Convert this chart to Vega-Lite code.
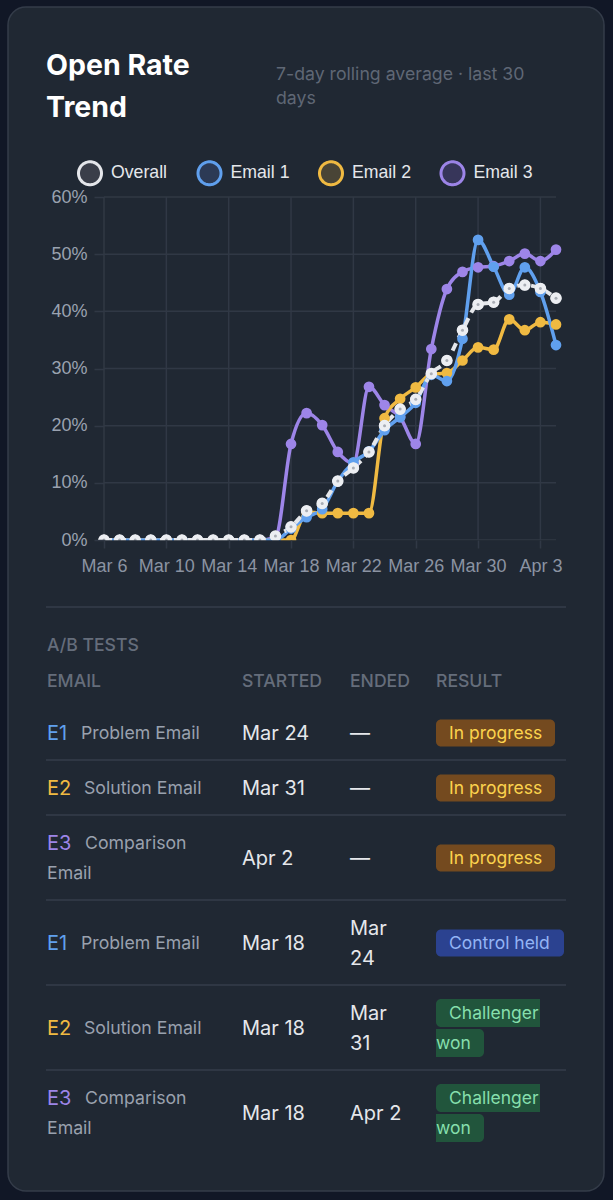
{
  "$schema": "https://vega.github.io/schema/vega-lite/v6.json",
  "width": 596,
  "height": 1184,
  "autosize": {"type": "none"},
  "padding": {"left": 8, "top": 7, "right": 9, "bottom": 9},
  "background": "#111726",
  "view": {"fill": "#202833", "stroke": "#343c49", "strokeWidth": 1.5, "cornerRadius": 18},
  "title": {
    "text": ["Open Rate", "Trend"],
    "anchor": "start",
    "frame": "group",
    "font": "Inter",
    "fontSize": 28.5,
    "fontWeight": 700,
    "color": "#ffffff",
    "lineHeight": 42,
    "baseline": "alphabetic",
    "offset": 0,
    "dx": 38,
    "dy": 138
  },
  "config": {
    "text": {"font": "Inter", "baseline": "middle", "align": "left", "dy": 1}
  },
  "datasets": {
    "rates": [
      {"date": "2026-03-06", "series": "Email 3", "rate": 0},
      {"date": "2026-03-07", "series": "Email 3", "rate": 0},
      {"date": "2026-03-08", "series": "Email 3", "rate": 0},
      {"date": "2026-03-09", "series": "Email 3", "rate": 0},
      {"date": "2026-03-10", "series": "Email 3", "rate": 0},
      {"date": "2026-03-11", "series": "Email 3", "rate": 0},
      {"date": "2026-03-12", "series": "Email 3", "rate": 0},
      {"date": "2026-03-13", "series": "Email 3", "rate": 0},
      {"date": "2026-03-14", "series": "Email 3", "rate": 0},
      {"date": "2026-03-15", "series": "Email 3", "rate": 0},
      {"date": "2026-03-16", "series": "Email 3", "rate": 0},
      {"date": "2026-03-17", "series": "Email 3", "rate": 0.5},
      {"date": "2026-03-18", "series": "Email 3", "rate": 16.8},
      {"date": "2026-03-19", "series": "Email 3", "rate": 22.2},
      {"date": "2026-03-20", "series": "Email 3", "rate": 20.1},
      {"date": "2026-03-21", "series": "Email 3", "rate": 15.4},
      {"date": "2026-03-22", "series": "Email 3", "rate": 13.4},
      {"date": "2026-03-23", "series": "Email 3", "rate": 26.8},
      {"date": "2026-03-24", "series": "Email 3", "rate": 23.6},
      {"date": "2026-03-25", "series": "Email 3", "rate": 21.5},
      {"date": "2026-03-26", "series": "Email 3", "rate": 16.8},
      {"date": "2026-03-27", "series": "Email 3", "rate": 33.4},
      {"date": "2026-03-28", "series": "Email 3", "rate": 43.9},
      {"date": "2026-03-29", "series": "Email 3", "rate": 46.9},
      {"date": "2026-03-30", "series": "Email 3", "rate": 47.7},
      {"date": "2026-03-31", "series": "Email 3", "rate": 47.9},
      {"date": "2026-04-01", "series": "Email 3", "rate": 48.8},
      {"date": "2026-04-02", "series": "Email 3", "rate": 50.1},
      {"date": "2026-04-03", "series": "Email 3", "rate": 48.8},
      {"date": "2026-04-04", "series": "Email 3", "rate": 50.8},
      {"date": "2026-03-06", "series": "Email 2", "rate": 0},
      {"date": "2026-03-07", "series": "Email 2", "rate": 0},
      {"date": "2026-03-08", "series": "Email 2", "rate": 0},
      {"date": "2026-03-09", "series": "Email 2", "rate": 0},
      {"date": "2026-03-10", "series": "Email 2", "rate": 0},
      {"date": "2026-03-11", "series": "Email 2", "rate": 0},
      {"date": "2026-03-12", "series": "Email 2", "rate": 0},
      {"date": "2026-03-13", "series": "Email 2", "rate": 0},
      {"date": "2026-03-14", "series": "Email 2", "rate": 0},
      {"date": "2026-03-15", "series": "Email 2", "rate": 0},
      {"date": "2026-03-16", "series": "Email 2", "rate": 0},
      {"date": "2026-03-17", "series": "Email 2", "rate": 0},
      {"date": "2026-03-18", "series": "Email 2", "rate": 0},
      {"date": "2026-03-19", "series": "Email 2", "rate": 4.9},
      {"date": "2026-03-20", "series": "Email 2", "rate": 4.7},
      {"date": "2026-03-21", "series": "Email 2", "rate": 4.7},
      {"date": "2026-03-22", "series": "Email 2", "rate": 4.7},
      {"date": "2026-03-23", "series": "Email 2", "rate": 4.7},
      {"date": "2026-03-24", "series": "Email 2", "rate": 21.3},
      {"date": "2026-03-25", "series": "Email 2", "rate": 24.7},
      {"date": "2026-03-26", "series": "Email 2", "rate": 26.7},
      {"date": "2026-03-27", "series": "Email 2", "rate": 29},
      {"date": "2026-03-28", "series": "Email 2", "rate": 29.2},
      {"date": "2026-03-29", "series": "Email 2", "rate": 31.4},
      {"date": "2026-03-30", "series": "Email 2", "rate": 33.7},
      {"date": "2026-03-31", "series": "Email 2", "rate": 33.3},
      {"date": "2026-04-01", "series": "Email 2", "rate": 38.6},
      {"date": "2026-04-02", "series": "Email 2", "rate": 36.7},
      {"date": "2026-04-03", "series": "Email 2", "rate": 38.1},
      {"date": "2026-04-04", "series": "Email 2", "rate": 37.7},
      {"date": "2026-03-06", "series": "Email 1", "rate": 0},
      {"date": "2026-03-07", "series": "Email 1", "rate": 0},
      {"date": "2026-03-08", "series": "Email 1", "rate": 0},
      {"date": "2026-03-09", "series": "Email 1", "rate": 0},
      {"date": "2026-03-10", "series": "Email 1", "rate": 0},
      {"date": "2026-03-11", "series": "Email 1", "rate": 0},
      {"date": "2026-03-12", "series": "Email 1", "rate": 0},
      {"date": "2026-03-13", "series": "Email 1", "rate": 0},
      {"date": "2026-03-14", "series": "Email 1", "rate": 0},
      {"date": "2026-03-15", "series": "Email 1", "rate": 0},
      {"date": "2026-03-16", "series": "Email 1", "rate": 0},
      {"date": "2026-03-17", "series": "Email 1", "rate": 0},
      {"date": "2026-03-18", "series": "Email 1", "rate": 2},
      {"date": "2026-03-19", "series": "Email 1", "rate": 4},
      {"date": "2026-03-20", "series": "Email 1", "rate": 5.4},
      {"date": "2026-03-21", "series": "Email 1", "rate": 10.3},
      {"date": "2026-03-22", "series": "Email 1", "rate": 13.6},
      {"date": "2026-03-23", "series": "Email 1", "rate": 15.5},
      {"date": "2026-03-24", "series": "Email 1", "rate": 19.2},
      {"date": "2026-03-25", "series": "Email 1", "rate": 21.5},
      {"date": "2026-03-26", "series": "Email 1", "rate": 24},
      {"date": "2026-03-27", "series": "Email 1", "rate": 28.9},
      {"date": "2026-03-28", "series": "Email 1", "rate": 27.8},
      {"date": "2026-03-29", "series": "Email 1", "rate": 35.2},
      {"date": "2026-03-30", "series": "Email 1", "rate": 52.5},
      {"date": "2026-03-31", "series": "Email 1", "rate": 47.8},
      {"date": "2026-04-01", "series": "Email 1", "rate": 42.9},
      {"date": "2026-04-02", "series": "Email 1", "rate": 47.7},
      {"date": "2026-04-03", "series": "Email 1", "rate": 43.4},
      {"date": "2026-04-04", "series": "Email 1", "rate": 34.1},
      {"date": "2026-03-06", "series": "Overall", "rate": 0},
      {"date": "2026-03-07", "series": "Overall", "rate": 0},
      {"date": "2026-03-08", "series": "Overall", "rate": 0},
      {"date": "2026-03-09", "series": "Overall", "rate": 0},
      {"date": "2026-03-10", "series": "Overall", "rate": 0},
      {"date": "2026-03-11", "series": "Overall", "rate": 0},
      {"date": "2026-03-12", "series": "Overall", "rate": 0},
      {"date": "2026-03-13", "series": "Overall", "rate": 0},
      {"date": "2026-03-14", "series": "Overall", "rate": 0},
      {"date": "2026-03-15", "series": "Overall", "rate": 0},
      {"date": "2026-03-16", "series": "Overall", "rate": 0},
      {"date": "2026-03-17", "series": "Overall", "rate": 0.7},
      {"date": "2026-03-18", "series": "Overall", "rate": 2.3},
      {"date": "2026-03-19", "series": "Overall", "rate": 5.1},
      {"date": "2026-03-20", "series": "Overall", "rate": 6.4},
      {"date": "2026-03-21", "series": "Overall", "rate": 10.3},
      {"date": "2026-03-22", "series": "Overall", "rate": 12.6},
      {"date": "2026-03-23", "series": "Overall", "rate": 15.4},
      {"date": "2026-03-24", "series": "Overall", "rate": 20},
      {"date": "2026-03-25", "series": "Overall", "rate": 22.9},
      {"date": "2026-03-26", "series": "Overall", "rate": 24.6},
      {"date": "2026-03-27", "series": "Overall", "rate": 29.1},
      {"date": "2026-03-28", "series": "Overall", "rate": 31.4},
      {"date": "2026-03-29", "series": "Overall", "rate": 36.7},
      {"date": "2026-03-30", "series": "Overall", "rate": 41.2},
      {"date": "2026-03-31", "series": "Overall", "rate": 41.6},
      {"date": "2026-04-01", "series": "Overall", "rate": 44},
      {"date": "2026-04-02", "series": "Overall", "rate": 44.6},
      {"date": "2026-04-03", "series": "Overall", "rate": 44},
      {"date": "2026-04-04", "series": "Overall", "rate": 42.3}
    ],
    "cells": [
      {"slot": -3, "col": 5, "kind": "note", "text": "7-day rolling average · last 30"},
      {"slot": -2, "col": 5, "kind": "note", "text": "days"},
      {"slot": -1, "col": 1, "kind": "head", "text": "A/B TESTS"},
      {"slot": 0, "col": 1, "kind": "head", "text": "EMAIL"},
      {"slot": 0, "col": 6, "kind": "head", "text": "STARTED"},
      {"slot": 0, "col": 7, "kind": "head", "text": "ENDED"},
      {"slot": 0, "col": 8, "kind": "head", "text": "RESULT"},
      {"slot": 1, "col": 1, "kind": "tag", "text": "E1"},
      {"slot": 1, "col": 2, "kind": "name", "text": "Problem Email"},
      {"slot": 1, "col": 6, "kind": "date", "text": "Mar 24"},
      {"slot": 1, "col": 7, "kind": "date", "text": "—"},
      {"slot": 1, "col": 9, "kind": "badge", "text": "In progress"},
      {"slot": 2, "col": 1, "kind": "tag", "text": "E2"},
      {"slot": 2, "col": 3, "kind": "name", "text": "Solution Email"},
      {"slot": 2, "col": 6, "kind": "date", "text": "Mar 31"},
      {"slot": 2, "col": 7, "kind": "date", "text": "—"},
      {"slot": 2, "col": 9, "kind": "badge", "text": "In progress"},
      {"slot": 3, "col": 1, "kind": "tag", "text": "E3"},
      {"slot": 3, "col": 4, "kind": "name", "text": "Comparison"},
      {"slot": 5, "col": 1, "kind": "name", "text": "Email"},
      {"slot": 4, "col": 6, "kind": "date", "text": "Apr 2"},
      {"slot": 4, "col": 7, "kind": "date", "text": "—"},
      {"slot": 4, "col": 9, "kind": "badge", "text": "In progress"},
      {"slot": 7, "col": 1, "kind": "tag", "text": "E1"},
      {"slot": 7, "col": 2, "kind": "name", "text": "Problem Email"},
      {"slot": 7, "col": 6, "kind": "date", "text": "Mar 18"},
      {"slot": 6, "col": 7, "kind": "date", "text": "Mar"},
      {"slot": 8, "col": 7, "kind": "date", "text": "24"},
      {"slot": 7, "col": 9, "kind": "badge", "text": "Control held"},
      {"slot": 10, "col": 1, "kind": "tag", "text": "E2"},
      {"slot": 10, "col": 3, "kind": "name", "text": "Solution Email"},
      {"slot": 10, "col": 6, "kind": "date", "text": "Mar 18"},
      {"slot": 9, "col": 7, "kind": "date", "text": "Mar"},
      {"slot": 11, "col": 7, "kind": "date", "text": "31"},
      {"slot": 9, "col": 9, "kind": "badge", "text": "Challenger"},
      {"slot": 11, "col": 8, "kind": "badge", "text": "won"},
      {"slot": 12, "col": 1, "kind": "tag", "text": "E3"},
      {"slot": 12, "col": 4, "kind": "name", "text": "Comparison"},
      {"slot": 14, "col": 1, "kind": "name", "text": "Email"},
      {"slot": 13, "col": 6, "kind": "date", "text": "Mar 18"},
      {"slot": 13, "col": 7, "kind": "date", "text": "Apr 2"},
      {"slot": 12, "col": 9, "kind": "badge", "text": "Challenger"},
      {"slot": 14, "col": 8, "kind": "badge", "text": "won"}
    ]
  },
  "resolve": {"scale": {"x": "independent", "y": "independent", "color": "independent", "stroke": "independent", "fill": "independent"}, "axis": {"x": "independent", "y": "independent"}},
  "layer": [
    {
      "layer": [
        {
          "data": {"values": [
            {"day": "2026-03-06"}, {"day": "2026-03-10"}, {"day": "2026-03-14"}, {"day": "2026-03-18"},
            {"day": "2026-03-22"}, {"day": "2026-03-26"}, {"day": "2026-03-30"}, {"day": "2026-04-03"}
          ]},
          "mark": {"type": "rule", "color": "#303845", "strokeWidth": 1.5},
          "encoding": {
            "x": {"field": "day", "type": "temporal", "scale": {"type": "utc"}},
            "y": {"datum": 0},
            "y2": {"datum": 60}
          }
        },
        {
          "data": {"values": [
            {"pct": 0, "from": "2026-03-06", "to": "2026-04-04"},
            {"pct": 10, "from": "2026-03-06", "to": "2026-04-04"},
            {"pct": 20, "from": "2026-03-06", "to": "2026-04-04"},
            {"pct": 30, "from": "2026-03-06", "to": "2026-04-04"},
            {"pct": 40, "from": "2026-03-06", "to": "2026-04-04"},
            {"pct": 50, "from": "2026-03-06", "to": "2026-04-04"},
            {"pct": 60, "from": "2026-03-06", "to": "2026-04-04"}
          ]},
          "mark": {"type": "rule", "color": "#303845", "strokeWidth": 1.5},
          "encoding": {
            "y": {"field": "pct", "type": "quantitative"},
            "x": {"field": "from", "type": "temporal", "scale": {"type": "utc"}},
            "x2": {"field": "to"}
          }
        },
        {
          "data": {"name": "rates"},
          "encoding": {
            "x": {
              "field": "date",
              "type": "temporal",
              "title": null,
              "scale": {"type": "utc", "domain": ["2026-03-06", "2026-04-04"], "range": [96, 548]},
              "axis": {
                "offset": -651,
                "values": [
                  {"utc": true, "year": 2026, "month": 3, "date": 6},
                  {"utc": true, "year": 2026, "month": 3, "date": 10},
                  {"utc": true, "year": 2026, "month": 3, "date": 14},
                  {"utc": true, "year": 2026, "month": 3, "date": 18},
                  {"utc": true, "year": 2026, "month": 3, "date": 22},
                  {"utc": true, "year": 2026, "month": 3, "date": 26},
                  {"utc": true, "year": 2026, "month": 3, "date": 30},
                  {"utc": true, "year": 2026, "month": 4, "date": 3}
                ],
                "format": "%b %-d",
                "title": null,
                "grid": false,
                "domain": false,
                "zindex": 1,
                "tickSize": 8,
                "tickWidth": 1.5,
                "tickColor": "#303845",
                "labelFont": "Liberation Sans",
                "labelFontSize": 18,
                "labelColor": "#8b93a2",
                "labelPadding": 9,
                "labelOverlap": false,
                "labelFlush": false,
                "labelBound": false
              }
            },
            "y": {
              "field": "rate",
              "type": "quantitative",
              "title": null,
              "scale": {"domain": [0, 60], "range": [533, 190], "nice": false},
              "axis": {
                "offset": -96,
                "values": [0, 10, 20, 30, 40, 50, 60],
                "labelExpr": "datum.value + '%'",
                "title": null,
                "grid": false,
                "domain": false,
                "zindex": 1,
                "tickSize": 10,
                "tickWidth": 1.5,
                "tickColor": "#303845",
                "labelFont": "Liberation Sans",
                "labelFontSize": 18,
                "labelColor": "#9aa2b0",
                "labelPadding": 7,
                "labelOverlap": false,
                "labelBound": false,
                "labelFlush": false
              }
            }
          },
          "layer": [
            {
              "transform": [{"filter": "datum.series !== 'Overall'"}],
              "mark": {"type": "line", "interpolate": "monotone", "strokeWidth": 3.5},
              "encoding": {
                "stroke": {
                  "field": "series",
                  "type": "nominal",
                  "scale": {
                    "domain": ["Overall", "Email 1", "Email 2", "Email 3"],
                    "range": ["#e5e7eb", "#60a0ee", "#f0ba42", "#9d85e8"]
                  },
                  "legend": {
                    "orient": "none", "legendX": 69, "legendY": 153, "direction": "horizontal", "columns": 4,
                    "title": null, "columnPadding": 23.5, "symbolType": "circle", "symbolSize": 529, "symbolStrokeWidth": 3,
                    "symbolDash": [1, 0],
                    "labelFont": "Liberation Sans", "labelFontSize": 17.7, "labelColor": "#e5e7eb", "labelOffset": 8
                  }
                }
              }
            },
            {
              "transform": [{"filter": "datum.series === 'Overall'"}],
              "mark": {"type": "line", "interpolate": "monotone", "strokeWidth": 4, "strokeDash": [8, 6]},
              "encoding": {
                "stroke": {
                  "field": "series",
                  "type": "nominal",
                  "scale": {
                    "domain": ["Overall", "Email 1", "Email 2", "Email 3"],
                    "range": ["#e5e7eb", "#60a0ee", "#f0ba42", "#9d85e8"]
                  },
                  "legend": {
                    "orient": "none", "legendX": 69, "legendY": 153, "direction": "horizontal", "columns": 4,
                    "title": null, "columnPadding": 23.5, "symbolType": "circle", "symbolSize": 529, "symbolStrokeWidth": 3,
                    "symbolDash": [1, 0],
                    "labelFont": "Liberation Sans", "labelFontSize": 17.7, "labelColor": "#e5e7eb", "labelOffset": 8
                  }
                }
              }
            },
            {
              "mark": {"type": "point", "size": 30, "strokeWidth": 3, "opacity": 1},
              "encoding": {
                "stroke": {
                  "field": "series",
                  "type": "nominal",
                  "scale": {
                    "domain": ["Overall", "Email 1", "Email 2", "Email 3"],
                    "range": ["#e5e7eb", "#60a0ee", "#f0ba42", "#9d85e8"]
                  },
                  "legend": {
                    "orient": "none", "legendX": 69, "legendY": 153, "direction": "horizontal", "columns": 4,
                    "title": null, "columnPadding": 23.5, "symbolType": "circle", "symbolSize": 529, "symbolStrokeWidth": 3,
                    "symbolDash": [1, 0],
                    "labelFont": "Liberation Sans", "labelFontSize": 17.7, "labelColor": "#e5e7eb", "labelOffset": 8
                  }
                },
                "fill": {
                  "field": "series",
                  "type": "nominal",
                  "scale": {
                    "domain": ["Overall", "Email 1", "Email 2", "Email 3"],
                    "range": ["#3a3e49", "#2c3a55", "#494436", "#37365a"]
                  },
                  "legend": {
                    "orient": "none", "legendX": 69, "legendY": 153, "direction": "horizontal", "columns": 4,
                    "title": null, "columnPadding": 23.5, "symbolType": "circle", "symbolSize": 529, "symbolStrokeWidth": 3,
                    "symbolDash": [1, 0],
                    "labelFont": "Liberation Sans", "labelFontSize": 17.7, "labelColor": "#e5e7eb", "labelOffset": 8
                  }
                }
              }
            },
            {
              "mark": {"type": "point", "filled": true, "opacity": 1, "size": 115},
              "encoding": {
                "color": {
                  "field": "series",
                  "type": "nominal",
                  "legend": null,
                  "scale": {
                    "domain": ["Overall", "Email 1", "Email 2", "Email 3"],
                    "range": ["#e5e7eb", "#60a0ee", "#f0ba42", "#9d85e8"]
                  }
                }
              }
            }
          ]
        },
        {
          "data": {"name": "rates"},
          "transform": [{"filter": "datum.series === 'Overall'"}],
          "mark": {"type": "point", "filled": true, "opacity": 1, "size": 135, "color": "#eceef2"},
          "encoding": {
            "x": {"field": "date", "type": "temporal"},
            "y": {"field": "rate", "type": "quantitative"}
          }
        },
        {
          "data": {"name": "rates"},
          "transform": [{"filter": "datum.series === 'Overall' && datum.date !== '2026-04-04'"}],
          "mark": {"type": "point", "filled": true, "opacity": 1, "size": 9, "color": "#a9adb5"},
          "encoding": {
            "x": {"field": "date", "type": "temporal"},
            "y": {"field": "rate", "type": "quantitative"}
          }
        },
        {
          "data": {"name": "rates"},
          "transform": [{"filter": "datum.date === '2026-04-04'"}],
          "mark": {"type": "point", "filled": true, "opacity": 1, "size": 22, "color": "#39414f"},
          "encoding": {
            "x": {"field": "date", "type": "temporal"},
            "y": {"field": "rate", "type": "quantitative"}
          }
        },
        {
          "data": {"values": [{"from": "2026-03-05", "to": "2026-04-04"}]},
          "mark": {"type": "rect", "color": "#202833"},
          "encoding": {
            "x": {"field": "from", "type": "temporal"},
            "x2": {"field": "to"},
            "y": {"datum": -0.05},
            "y2": {"datum": -1.5}
          }
        }
      ]
    },
    {
      "data": {"values": [
        {"divider": 1}, {"divider": 2}, {"divider": 3}, {"divider": 4}, {"divider": 5}, {"divider": 6}
      ]},
      "mark": {"type": "rule", "color": "#353d4b", "strokeWidth": 1.5},
      "encoding": {
        "y": {
          "field": "divider",
          "type": "quantitative",
          "axis": null,
          "scale": {"domain": [1, 2, 3, 4, 5, 6], "range": [600, 753, 808, 893, 978, 1063], "zero": false, "nice": false}
        },
        "x": {"datum": 0, "axis": null, "scale": {"domain": [0, 1], "range": [38, 558], "nice": false}},
        "x2": {"datum": 1}
      }
    },
    {
      "data": {"name": "cells"},
      "encoding": {
        "x": {
          "field": "col",
          "type": "quantitative",
          "axis": null,
          "scale": {"domain": [1, 2, 3, 4, 5, 6, 7, 8, 9], "range": [39, 73, 76, 77, 268, 234, 342, 428, 441], "zero": false, "nice": false}
        },
        "y": {
          "field": "slot",
          "type": "quantitative",
          "axis": null,
          "scale": {
            "domain": [-3, -2, -1, 0, 1, 2, 3, 4, 5, 6, 7, 8, 9, 10, 11, 12, 13, 14],
            "range": [67, 91, 638, 674, 726, 781, 836, 851, 866, 921, 936, 951, 1006, 1021, 1036, 1091, 1106, 1121],
            "zero": false,
            "nice": false
          }
        }
      },
      "layer": [
        {
          "transform": [{"filter": "datum.text === 'In progress'"}],
          "mark": {"type": "rect", "width": 119, "height": 27, "xOffset": 59.5, "cornerRadius": 5, "color": "#744a1f"},
          "encoding": {"x": {"datum": 8}}
        },
        {
          "transform": [{"filter": "datum.text === 'Control held'"}],
          "mark": {"type": "rect", "width": 128, "height": 27, "xOffset": 64, "cornerRadius": 5, "color": "#2b4290"},
          "encoding": {"x": {"datum": 8}}
        },
        {
          "transform": [{"filter": "datum.text === 'Challenger'"}],
          "mark": {"type": "rect", "width": 104, "height": 28, "xOffset": 52, "cornerRadiusTopLeft": 5, "cornerRadiusBottomLeft": 5, "color": "#21553c"},
          "encoding": {"x": {"datum": 8}}
        },
        {
          "transform": [{"filter": "datum.text === 'won'"}],
          "mark": {"type": "rect", "width": 48, "height": 28, "xOffset": 24, "cornerRadiusTopRight": 5, "cornerRadiusBottomRight": 5, "color": "#21553c"},
          "encoding": {"x": {"datum": 8}}
        },
        {
          "transform": [{"filter": "datum.kind === 'note'"}],
          "mark": {"type": "text", "fontSize": 17.7, "color": "#5f6775"},
          "encoding": {"text": {"field": "text"}}
        },
        {
          "transform": [{"filter": "datum.kind === 'head'"}],
          "mark": {"type": "text", "fontSize": 17.6, "fontWeight": 500, "color": "#656d7b"},
          "encoding": {"text": {"field": "text"}}
        },
        {
          "transform": [{"filter": "datum.kind === 'name'"}],
          "mark": {"type": "text", "fontSize": 17.7, "color": "#9aa1ae"},
          "encoding": {"text": {"field": "text"}}
        },
        {
          "transform": [{"filter": "datum.kind === 'date'"}],
          "mark": {"type": "text", "fontSize": 20, "color": "#e5e7eb"},
          "encoding": {"text": {"field": "text"}}
        },
        {
          "transform": [{"filter": "datum.kind === 'tag'"}],
          "mark": {"type": "text", "fontSize": 20},
          "encoding": {
            "text": {"field": "text"},
            "color": {
              "field": "text",
              "type": "nominal",
              "legend": null,
              "scale": {
                "domain": ["E1", "E2", "E3", "In progress", "Control held", "Challenger", "won"],
                "range": ["#60a0ee", "#f0ba42", "#9d85e8", "#fcd34d", "#93b4f5", "#86dfac", "#86dfac"]
              }
            }
          }
        },
        {
          "transform": [{"filter": "datum.kind === 'badge'"}],
          "mark": {"type": "text", "fontSize": 17.5},
          "encoding": {
            "text": {"field": "text"},
            "color": {
              "field": "text",
              "type": "nominal",
              "legend": null,
              "scale": {
                "domain": ["E1", "E2", "E3", "In progress", "Control held", "Challenger", "won"],
                "range": ["#60a0ee", "#f0ba42", "#9d85e8", "#fcd34d", "#93b4f5", "#86dfac", "#86dfac"]
              }
            }
          }
        }
      ]
    }
  ]
}
